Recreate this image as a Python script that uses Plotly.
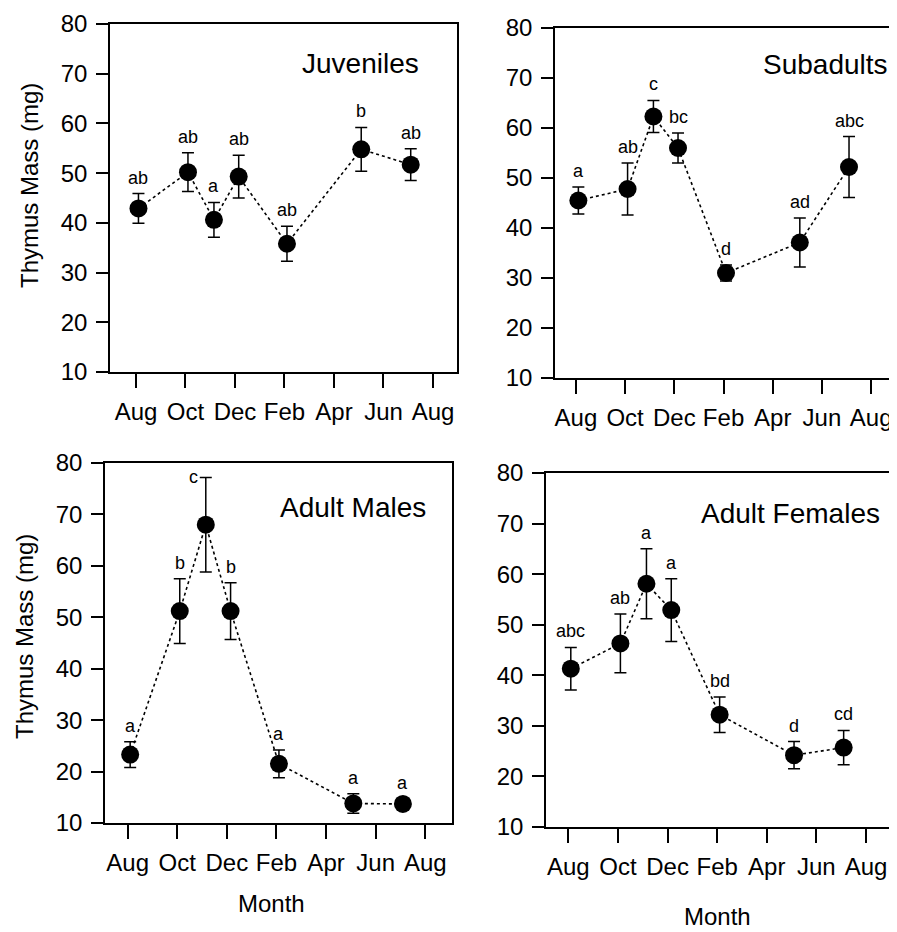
import plotly.graph_objects as go

W, H = 897, 932
OFF = 8  # page body margin offset compensation

# ---- data ----
month_ticks = ["Aug", "Oct", "Dec", "Feb", "Apr", "Jun", "Aug"]
sample_months = [0.1, 2.1, 3.15, 4.15, 6.1, 9.1, 11.1]  # months after August

juv_mean = [42.9, 50.2, 40.6, 49.3, 35.8, 54.8, 51.7]
juv_err = [3.0, 3.9, 3.5, 4.3, 3.5, 4.4, 3.2]
juv_letters = ["ab", "ab", "a", "ab", "ab", "b", "ab"]

sub_mean = [45.5, 47.8, 62.3, 56.0, 31.0, 37.1, 52.2]
sub_err = [2.7, 5.2, 3.2, 3.0, 1.6, 4.9, 6.1]
sub_letters = ["a", "ab", "c", "bc", "d", "ad", "abc"]

am_mean = [23.3, 51.2, 68.0, 51.2, 21.5, 13.8, 13.7]
am_err = [2.5, 6.3, 9.2, 5.5, 2.7, 1.9, 0.9]
am_letters = ["a", "b", "c", "b", "a", "a", "a"]

af_mean = [41.3, 46.3, 58.1, 52.9, 32.2, 24.2, 25.7]
af_err = [4.2, 5.8, 6.9, 6.2, 3.5, 2.7, 3.4]
af_letters = ["abc", "ab", "a", "a", "bd", "d", "cd"]

panel_titles = ["Juveniles", "Subadults", "Adult Males", "Adult Females"]
y_title = "Thymus Mass (mg)"
x_title = "Month"

FONT = "Liberation Sans, Arial, sans-serif"

# ---- layout geometry (pixels, in reference-image coordinates) ----
boxes = [
    (110, 457, 24, 372, [-1.05, 12.97]),
    (555, 897, 28, 378, [-0.85, 13.05]),
    (105, 452, 463, 823, [-0.915, 13.08]),
    (546, 894, 473, 827, [-0.9, 13.13]),
]
title_pos = [(360, 63), (825, 65), (353, 508), (790, 513)]


def px(xp):
    return (xp - OFF) / W


def py(yp):
    return 1 - (yp - OFF) / H


series = [
    (juv_mean, juv_err, juv_letters),
    (sub_mean, sub_err, sub_letters),
    (am_mean, am_err, am_letters),
    (af_mean, af_err, af_letters),
]

fig = go.Figure()
annotations = []
layout = {}

for i, ((l, r, t, b, xr), (mean, err, letters)) in enumerate(zip(boxes, series)):
    n = "" if i == 0 else str(i + 1)
    xa, ya = "x" + n, "y" + n
    fig.add_trace(go.Scatter(
        x=sample_months, y=mean, xaxis=xa, yaxis=ya,
        mode="lines+markers",
        line=dict(color="black", width=1.6, dash="dot"),
        marker=dict(color="black", size=18),
        error_y=dict(type="data", array=err, visible=True,
                     color="black", thickness=1.5, width=6),
        showlegend=False, hoverinfo="skip", cliponaxis=False,
    ))
    axis_common = dict(
        showline=True, linecolor="black", linewidth=1.5, mirror=True,
        ticks="outside", tickcolor="black", tickwidth=1.5,
        showgrid=False, zeroline=False, automargin=False,
        ticklabeloverflow="allow",
        tickfont=dict(family=FONT, size=24, color="black"),
    )
    layout["xaxis" + n] = dict(
        domain=[max(px(l), 0.0), min(px(r), 1.0)], range=xr, anchor=ya,
        tickvals=[2 * k for k in range(len(month_ticks))], ticktext=month_ticks,
        ticklen=14, ticklabelstandoff=3, **axis_common,
    )
    layout["yaxis" + n] = dict(
        domain=[py(b), py(t)], range=[10, 80], anchor=xa,
        tickvals=list(range(10, 81, 10)), ticklen=12, ticklabelstandoff=4,
        **axis_common,
    )
    for k, (xm, m, e, s) in enumerate(zip(sample_months, mean, err, letters)):
        if i == 2 and s == "c":
            annotations.append(dict(x=xm, y=m + e, xref=xa, yref=ya, text=s,
                                    showarrow=False, xanchor="center", yanchor="middle",
                                    xshift=-12, font=dict(family=FONT, size=18, color="black")))
        else:
            annotations.append(dict(x=xm, y=m + e, xref=xa, yref=ya, text=s,
                                    showarrow=False, xanchor="center", yanchor="bottom",
                                    yshift=4, font=dict(family=FONT, size=18, color="black")))
    tx, ty = title_pos[i]
    annotations.append(dict(x=px(tx), y=py(ty), xref="paper", yref="paper",
                            text=panel_titles[i], showarrow=False,
                            xanchor="center", yanchor="middle",
                            font=dict(family=FONT, size=28, color="black")))

# axis titles
for (cx, cy) in [(30, 186), (24, 637)]:
    annotations.append(dict(x=px(cx), y=py(cy), xref="paper", yref="paper",
                            text=y_title, textangle=-90, showarrow=False,
                            xanchor="center", yanchor="middle",
                            font=dict(family=FONT, size=24, color="black")))
for (cx, cy) in [(271, 903), (717, 916)]:
    annotations.append(dict(x=px(cx), y=py(cy), xref="paper", yref="paper",
                            text=x_title, showarrow=False,
                            xanchor="center", yanchor="middle",
                            font=dict(family=FONT, size=24, color="black")))

fig.update_layout(
    width=W, height=H,
    margin=dict(l=0, r=0, t=0, b=0, pad=0, autoexpand=False),
    paper_bgcolor="white", plot_bgcolor="white",
    annotations=annotations, **layout,
)

fig.write_html("out.html")
